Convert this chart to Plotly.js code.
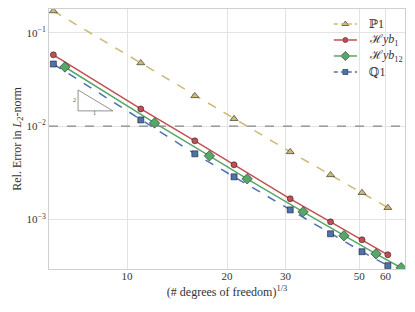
<!DOCTYPE html>
<html>
<head>
<meta charset="utf-8">
<script src="https://cdn.plot.ly/plotly-3.0.1.min.js"></script>
<style>html,body{margin:0;padding:0;background:#fff;}#chart{width:415px;height:312px;}</style>
</head>
<body>
<div id="chart"></div>
<script>
// Data
const xP1 = [6, 11, 16, 21, 31, 41, 51, 61];
const yP1 = [0.171, 0.0475, 0.0211, 0.0120, 0.00531, 0.00301, 0.00194, 0.00134];
const xHyb1 = [6, 11, 16, 21, 31, 41, 51, 61];
const yHyb1 = [0.0580, 0.0153, 0.00697, 0.00386, 0.00167, 0.000946, 0.000608, 0.000420];
const xHyb12 = [6.5, 12.1, 17.7, 23.0, 33.9, 45.0, 56.2, 66.9];
const yHyb12 = [0.0430, 0.01083, 0.00481, 0.00273, 0.00121, 0.000671, 0.000430, 0.000305];
const xQ1 = [6, 11, 16, 21, 31, 41, 51, 61];
const yQ1 = [0.0463, 0.01166, 0.00506, 0.00287, 0.00127, 0.000705, 0.000453, 0.000321];
const xTickVals = [10, 20, 30, 50, 60];
const xTickText = ['10', '20', '30', '50', '60'];
const yTickVals = [0.1, 0.01, 0.001];
const yTickText = ['10<sup>−1</sup>', '10<sup>−2</sup>', '10<sup>−3</sup>'];
const refLevel = 0.01;
const names = ['ℙ1', 'ℋ<i>yb</i><sub>1</sub>', 'ℋ<i>yb</i><sub>12</sub>', 'ℚ1'];
// slope triangle corners (x, y)
const triX = [7.12, 7.12, 9.07];
const triY = [0.0244, 0.01458, 0.01458];

const FONT = 'Liberation Serif, DejaVu Serif, serif';
const edge = {color: '#222', width: 0.6};

const styles = [
  {color: '#CCB974', dash: 'dash', symbol: 'triangle-up', size: 7},
  {color: '#C44E52', dash: 'solid', symbol: 'circle', size: 6},
  {color: '#55A868', dash: 'solid', symbol: 'diamond', size: 8},
  {color: '#4C72B0', dash: 'dash', symbol: 'square', size: 6}
];
const series = [[xP1, yP1], [xHyb1, yHyb1], [xHyb12, yHyb12], [xQ1, yQ1]];

const traces = series.map((s, i) => ({
  x: s[0], y: s[1], name: names[i], mode: 'lines+markers', showlegend: false,
  line: {color: styles[i].color, width: 1.5, dash: styles[i].dash},
  marker: {symbol: styles[i].symbol, size: styles[i].size, color: styles[i].color, line: edge}
}));

// hand-made legend (compact spacing like the reference)
const legX0 = 0.80, legX1 = 0.865, legTextX = 0.893;
const legY0 = 0.9423, legStep = 0.0615;
const shapes = [
  {type: 'line', xref: 'paper', x0: 0, x1: 1, yref: 'y', y0: refLevel, y1: refLevel,
   line: {color: '#888', width: 1.2, dash: 'dash'}, layer: 'above'},
  {type: 'path', xref: 'x', yref: 'y',
   path: 'M ' + triX[0] + ',' + triY[0] + ' L ' + triX[1] + ',' + triY[1] + ' L ' + triX[2] + ',' + triY[2] + ' Z',
   line: {color: '#777', width: 0.8}}
];
const annotations = [
  {xref: 'x', yref: 'y', x: Math.log10(6.95), y: Math.log10(0.0190), text: '2', showarrow: false, font: {family: FONT, size: 6, color: '#555'}},
  {xref: 'x', yref: 'y', x: Math.log10(8.0), y: Math.log10(0.0138), text: '1', showarrow: false, font: {family: FONT, size: 6, color: '#555'}}
];
names.forEach((n, i) => {
  const ly = legY0 - i * legStep;
  shapes.push({type: 'line', xref: 'paper', yref: 'paper', x0: legX0, x1: legX1, y0: ly, y1: ly,
               line: {color: styles[i].color, width: 1.5, dash: styles[i].dash === 'dash' ? '4px,3px' : 'solid'}});
  annotations.push({xref: 'paper', yref: 'paper', x: legTextX, y: ly, xanchor: 'left', yanchor: 'middle',
                    text: n, showarrow: false, font: {family: FONT, size: 12, color: '#333'}});
  traces.push({x: [(legX0 + legX1) / 2], y: [ly], xaxis: 'x2', yaxis: 'y2', mode: 'markers',
               showlegend: false, hoverinfo: 'skip', cliponaxis: false,
               marker: {symbol: styles[i].symbol, size: styles[i].size - 1, color: styles[i].color, line: edge}});
});

const layout = {
  width: 415, height: 312,
  margin: {l: 49, r: 10, t: 9, b: 43},
  paper_bgcolor: '#fff', plot_bgcolor: '#fff',
  font: {family: FONT, size: 11, color: '#333'},
  showlegend: false,
  xaxis: {type: 'log', range: [0.765, 1.837],
          tickvals: xTickVals, ticktext: xTickText,
          showgrid: true, gridcolor: '#e3e3e3', gridwidth: 1,
          showline: true, linecolor: '#d0d0d0', linewidth: 1, mirror: true,
          zeroline: false, ticks: '', ticklabelstandoff: -3,
          tickfont: {family: FONT, size: 11, color: '#333'},
          title: {text: '(# degrees of freedom)<sup>1/3</sup>', font: {family: FONT, size: 12, color: '#333'}, standoff: 6}},
  yaxis: {type: 'log', range: [-3.529, -0.7455],
          tickvals: yTickVals, ticktext: yTickText,
          showgrid: true, gridcolor: '#e3e3e3', gridwidth: 1,
          showline: true, linecolor: '#d0d0d0', linewidth: 1, mirror: true,
          zeroline: false, ticks: '',
          tickfont: {family: FONT, size: 11, color: '#333'},
          title: {text: 'Rel. Error in <i>L</i><sub>2</sub>-norm', font: {family: FONT, size: 12, color: '#333'}, standoff: 2}},
  xaxis2: {overlaying: 'x', range: [0, 1], visible: false, fixedrange: true},
  yaxis2: {overlaying: 'y', range: [0, 1], visible: false, fixedrange: true},
  shapes: shapes,
  annotations: annotations
};

Plotly.newPlot('chart', traces, layout, {displayModeBar: false, staticPlot: true});
</script>
</body>
</html>
